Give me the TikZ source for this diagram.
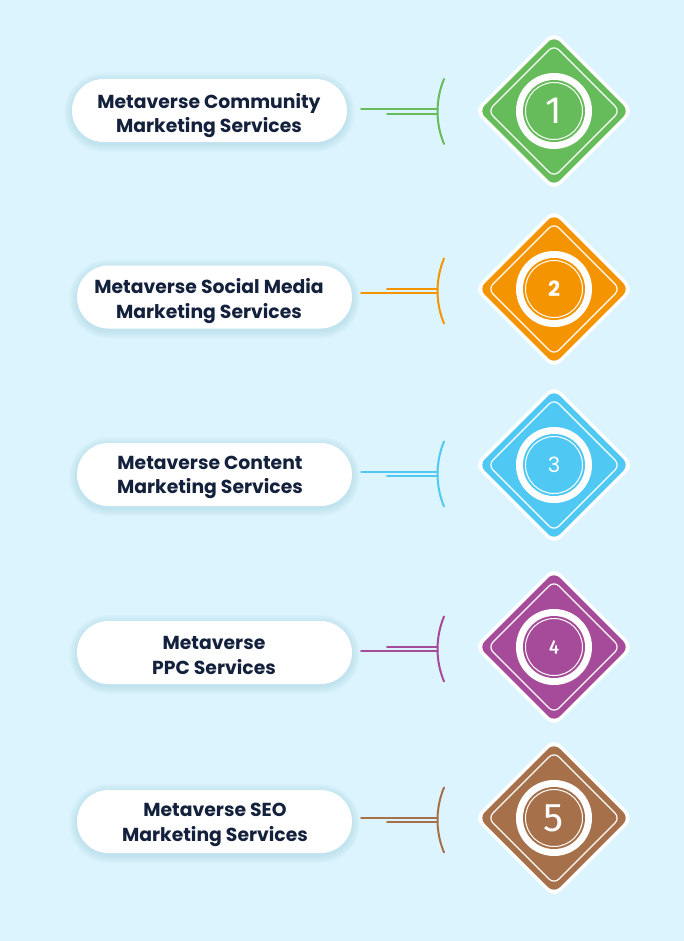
\documentclass[tikz,border=0pt]{standalone}
\usepackage{fontspec}
\setmainfont{Poppins}
\newfontfamily\numfont{Fira Sans}
\usetikzlibrary{calc}
\definecolor{bg}{HTML}{DCF4FD}
\definecolor{shadowc}{HTML}{8CC3DA}
\definecolor{navy}{HTML}{14213D}
\definecolor{cgreen}{HTML}{66BC5A}
\definecolor{corange}{HTML}{F39400}
\definecolor{cblue}{HTML}{4FC8F4}
\definecolor{cpurple}{HTML}{A64B9A}
\definecolor{cbrown}{HTML}{A6704A}
\tikzset{
  pill/.style={fill=white, rounded corners=31.5pt, minimum width=275pt, minimum height=63pt, inner sep=0pt},
  lbl/.style={font=\bfseries\fontsize{18.8}{24.5}\selectfont, text=navy, align=center, inner sep=0pt},
  conn/.style={line width=2pt, line cap=round},
  ringnode/.style={circle, fill=white, minimum size=76pt, inner sep=0pt},
  corenode/.style={circle, minimum size=62pt, inner sep=0pt},
}
\newcommand\dpath[3]{(554+#2/2,#1-#2/2) -- (554+#2,#1) -- (554,#1+#2) -- (554-#2,#1) -- (554,#1-#2) -- cycle}
% #1 pill x, #2 pill y, #3 colour, #4 diamond y, #5 number, #6 long line y, #7 short line y, #8 id
\newcommand\rowitem[8]{%
  \foreach \i in {1,...,8}{
    \fill[shadowc, opacity=0.045, rounded corners=31.5+\i]
      (#1-137.5-\i,#2+2-31.5-\i) rectangle (#1+137.5+\i,#2+2+31.5+\i);
  }
  \node[pill] (p#8) at (#1,#2) {};
  \fill[white, rounded corners=10] \dpath{#4}{80}{};
  \fill[#3, rounded corners=8] \dpath{#4}{75}{};
  \draw[white, line width=1.2pt, rounded corners=7] \dpath{#4}{66}{};
  \node[ringnode] (r#8) at (554,#4) {};
  \node[corenode, fill=#3] (c#8) at (554,#4) {};
  \draw[white, line width=1pt] (c#8.center) circle (28.5);
  \node[text=white, inner sep=0pt] (n#8) at (554,#4) {#5};
  \coordinate (la#8) at (361,#6);
  \coordinate (lb#8) at (387,#7);
  \coordinate (ea#8) at (437.5,#6);
  \coordinate (eb#8) at (437.5,#7);
  \coordinate (at#8) at (444,{(#6+#7)/2-32.5});
  \draw[conn, #3] (at#8) arc[start angle=202.6, end angle=157.4, radius=84.5] coordinate (ab#8);
  \draw[conn, #3] (la#8) -- (ea#8);
  \draw[conn, #3] (lb#8) -- (eb#8);
}
\begin{document}
\begin{tikzpicture}[x=1pt, y=-1pt]
\fill[bg] (0,0) rectangle (684,941);
\useasboundingbox (0,0) rectangle (684,941);

\rowitem{209.5}{110.5}{cgreen}{111}{\numfont\fontsize{38}{38}\selectfont 1}{109}{114}{1}
\node[lbl] (t1) at (209,115.5) {Metaverse Community\\Marketing Services};

\rowitem{214.5}{297}{corange}{289}{\bfseries\fontsize{21}{21}\selectfont 2}{293}{289}{2}
\node[lbl] (t2) at (209,301) {Metaverse Social Media\\Marketing Services};

\rowitem{214.5}{474.5}{cblue}{465}{\fontsize{21}{21}\selectfont 3}{472}{476}{3}
\node[lbl] (t3) at (210,477.5) {Metaverse Content\\Marketing Services};

\rowitem{214.5}{652.5}{cpurple}{647}{\numfont\fontsize{19}{19}\selectfont\addfontfeatures{FakeBold=1.5} 4}{651}{647}{4}
\node[lbl] (t4) at (214,655.5) {Metaverse\\PPC Services};

\rowitem{214.5}{821.5}{cbrown}{818}{\numfont\fontsize{40}{40}\selectfont 5}{818}{822}{5}
\node[lbl] (t5) at (215,825) {Metaverse SEO\\Marketing Services};
\end{tikzpicture}
\end{document}
